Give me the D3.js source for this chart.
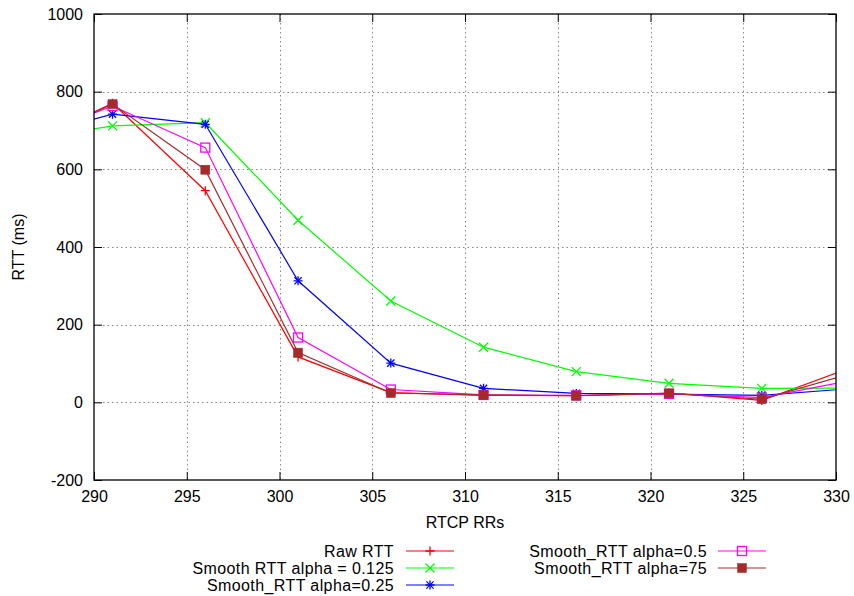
<!DOCTYPE html>
<html>
<head>
<meta charset="utf-8">
<script src="https://cdn.jsdelivr.net/npm/d3@7"></script>
<style>
  html, body { margin: 0; padding: 0; background: #fff; }
  svg text { font-family: "Liberation Sans", Arial, Helvetica, sans-serif; font-size: 16px; fill: #000; }
  svg text.key { letter-spacing: 0.4px; }
</style>
</head>
<body>
<svg id="chart" width="854" height="596"></svg>
<script>
// RTCP receiver report index for each sample
const rrIndex = [286, 291, 296, 301, 306, 311, 316, 321, 326, 331];

// RTT series (ms)
const rawRtt     = [655, 770, 545, 117, 25, 18, 17, 24, 5, 93];
const smooth0125 = [672, 712, 720, 469, 261, 142, 79, 49, 36, 37];
const smooth025  = [677, 742, 716, 313, 101, 36, 23, 21, 18, 36];
const smooth05   = [673, 763, 656, 167, 33, 19, 18, 22, 12, 58];
const smooth75   = [663, 768, 599, 128, 24, 19, 17, 23, 8, 77];

const xTicks = [290, 295, 300, 305, 310, 315, 320, 325, 330];
const yTicks = [-200, 0, 200, 400, 600, 800, 1000];

const seriesList = [
  { name: "Raw RTT", values: rawRtt, color: "#ff0000", marker: "plus" },
  { name: "Smooth RTT alpha = 0.125", values: smooth0125, color: "#00ff00", marker: "cross" },
  { name: "Smooth_RTT alpha=0.25", values: smooth025, color: "#0000ff", marker: "star" },
  { name: "Smooth_RTT alpha=0.5", values: smooth05, color: "#ff00ff", marker: "openSquare" },
  { name: "Smooth_RTT alpha=75", values: smooth75, color: "#a52a2a", marker: "filledSquare" }
];

const svg = d3.select("#chart");
const margin = { left: 94, right: 18, top: 14, bottom: 116 };
const W = 854, H = 596;
const x = d3.scaleLinear().domain([290, 330]).range([margin.left, W - margin.right]);
const y = d3.scaleLinear().domain([-200, 1000]).range([H - margin.bottom, margin.top]);

const x0 = x.range()[0], x1 = x.range()[1];
const y0 = y.range()[0], y1 = y.range()[1];

const plainNum = d => String(d);

// grid
const grid = svg.append("g").attr("stroke", "#888").attr("stroke-width", 1).attr("stroke-dasharray", "1.5,3");
xTicks.slice(1, -1).forEach(t => {
  grid.append("line").attr("x1", Math.round(x(t)) + 0.5).attr("x2", Math.round(x(t)) + 0.5)
    .attr("y1", y1).attr("y2", y0);
});
yTicks.slice(1, -1).forEach(t => {
  grid.append("line").attr("y1", Math.round(y(t)) + 0.5).attr("y2", Math.round(y(t)) + 0.5)
    .attr("x1", x0).attr("x2", x1);
});

// axes with inward ticks, mirrored on the opposite side
const tickLen = 8;
const axB = svg.append("g").attr("transform", `translate(0,${y0})`)
  .call(d3.axisBottom(x).tickValues(xTicks).tickSizeInner(-tickLen).tickSizeOuter(0).tickPadding(11).tickFormat(plainNum));
const axT = svg.append("g").attr("transform", `translate(0,${y1})`)
  .call(d3.axisTop(x).tickValues(xTicks).tickSizeInner(-tickLen).tickSizeOuter(0).tickFormat(""));
const axL = svg.append("g").attr("transform", `translate(${x0},0)`)
  .call(d3.axisLeft(y).tickValues(yTicks).tickSizeInner(-tickLen).tickSizeOuter(0).tickPadding(11).tickFormat(plainNum));
const axR = svg.append("g").attr("transform", `translate(${x1},0)`)
  .call(d3.axisRight(y).tickValues(yTicks).tickSizeInner(-tickLen).tickSizeOuter(0).tickFormat(""));
[axB, axT, axL, axR].forEach(a => {
  a.select(".domain").remove();
  a.selectAll("line").attr("stroke", "#000");
  a.selectAll("text").attr("font-family", null).attr("font-size", null);
});
axB.selectAll("text").attr("dy", "0.71em");

// data lines, clipped to the plot area
svg.append("clipPath").attr("id", "plotClip").append("rect")
  .attr("x", x0).attr("y", y1).attr("width", x1 - x0).attr("height", y0 - y1);
const plot = svg.append("g").attr("clip-path", "url(#plotClip)");
const line = d3.line().x((d, i) => x(rrIndex[i])).y(d => y(d));

function drawMarker(g, cx, cy, type, color) {
  const s = 4.5;
  if (type === "plus" || type === "star") {
    g.append("path").attr("d", `M${cx - s},${cy}H${cx + s}M${cx},${cy - s}V${cy + s}`)
      .attr("stroke", color).attr("stroke-width", 1.3).attr("fill", "none");
  }
  if (type === "cross" || type === "star") {
    const c = type === "star" ? s * 0.8 : s;
    g.append("path").attr("d", `M${cx - c},${cy - c}L${cx + c},${cy + c}M${cx - c},${cy + c}L${cx + c},${cy - c}`)
      .attr("stroke", color).attr("stroke-width", 1.3).attr("fill", "none");
  }
  if (type === "openSquare") {
    g.append("rect").attr("x", cx - 4.5).attr("y", cy - 4.5).attr("width", 9).attr("height", 9)
      .attr("fill", "none").attr("stroke", color).attr("stroke-width", 1.3);
  }
  if (type === "filledSquare") {
    g.append("rect").attr("x", cx - 4.5).attr("y", cy - 4.5).attr("width", 9).attr("height", 9)
      .attr("fill", color).attr("stroke", color).attr("stroke-width", 0.5);
  }
}

seriesList.forEach(s => {
  plot.append("path").datum(s.values).attr("d", line)
    .attr("fill", "none").attr("stroke", s.color).attr("stroke-width", 1.2);
  const mg = plot.append("g");
  s.values.forEach((v, i) => drawMarker(mg, x(rrIndex[i]), y(v), s.marker, s.color));
});

// border
svg.append("rect").attr("x", x0).attr("y", y1).attr("width", x1 - x0).attr("height", y0 - y1)
  .attr("fill", "none").attr("stroke", "#000").attr("stroke-width", 1.3);

// axis titles
svg.append("text").attr("x", (x0 + x1) / 2).attr("y", 528).attr("text-anchor", "middle").text("RTCP RRs");
svg.append("text").attr("transform", `translate(24,${(y0 + y1) / 2}) rotate(-90)`)
  .attr("text-anchor", "middle").text("RTT (ms)");

// legend in two columns
const legendCols = [
  { textX: 394, x1: 406, x2: 454, rows: [0, 1, 2] },
  { textX: 707, x1: 718, x2: 766, rows: [3, 4] }
];
const rowY = [551, 568, 585];
legendCols.forEach(col => {
  col.rows.forEach((si, r) => {
    const s = seriesList[si];
    const ly = rowY[r];
    svg.append("text").attr("class", "key").attr("x", col.textX).attr("y", ly).attr("dy", "0.35em")
      .attr("text-anchor", "end").text(s.name);
    svg.append("line").attr("x1", col.x1).attr("x2", col.x2).attr("y1", ly).attr("y2", ly)
      .attr("stroke", s.color).attr("stroke-width", 1.2);
    drawMarker(svg.append("g"), (col.x1 + col.x2) / 2, ly, s.marker, s.color);
  });
});
</script>
</body>
</html>
